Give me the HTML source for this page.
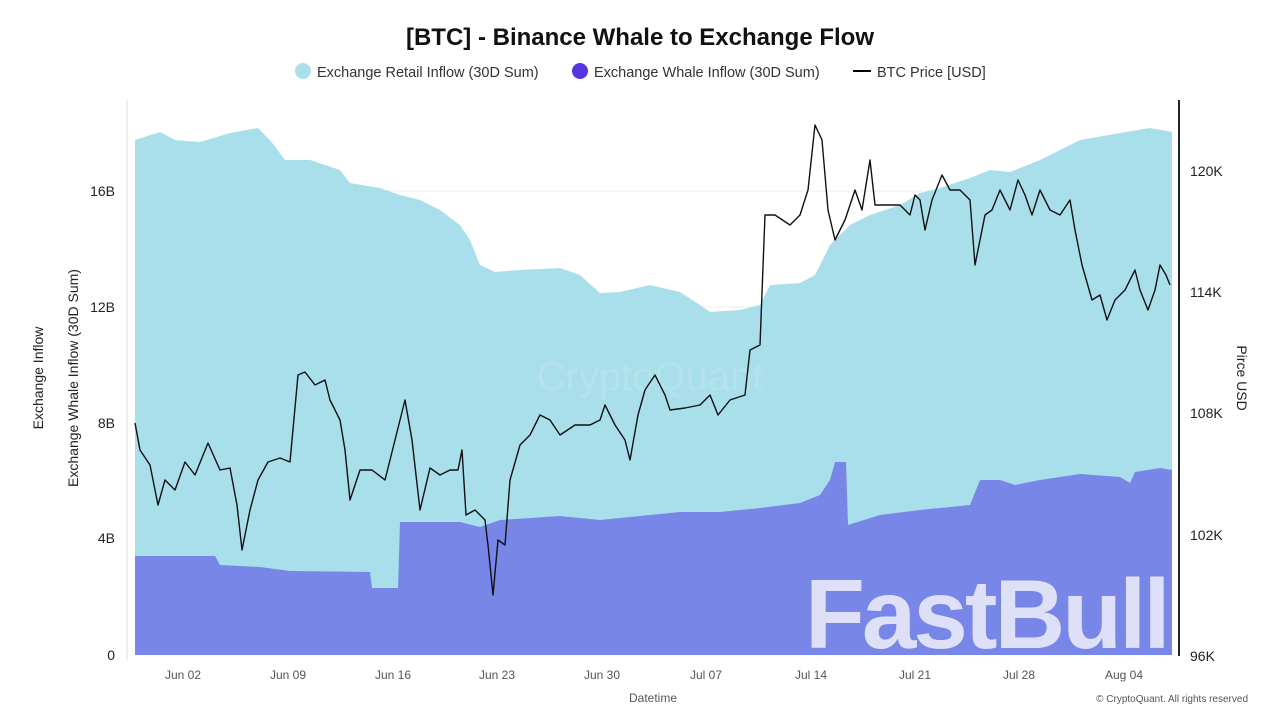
<!DOCTYPE html>
<html><head><meta charset="utf-8"><style>
html,body{margin:0;padding:0;background:#fff;width:1280px;height:720px;overflow:hidden}
svg{display:block;font-family:"Liberation Sans",sans-serif}
</style></head><body>
<svg width="1280" height="720" viewBox="0 0 1280 720">
<defs><clipPath id="c"><rect x="790" y="540" width="386" height="116"/></clipPath></defs>
<text x="640" y="45" text-anchor="middle" font-size="24" font-weight="bold" fill="#111">[BTC] - Binance Whale to Exchange Flow</text>
<circle cx="303" cy="71" r="8" fill="#a8dfeb"/>
<text x="317" y="77" font-size="14.5" fill="#333">Exchange Retail Inflow (30D Sum)</text>
<circle cx="580" cy="71" r="8" fill="#5535e0"/>
<text x="594" y="77" font-size="14.5" fill="#333">Exchange Whale Inflow (30D Sum)</text>
<line x1="853" y1="71" x2="871" y2="71" stroke="#000" stroke-width="2"/>
<text x="877" y="77" font-size="14.5" fill="#333">BTC Price [USD]</text>
<g stroke="#eee" stroke-width="1">
<line x1="135" y1="191" x2="1172" y2="191"/><line x1="135" y1="307" x2="1172" y2="307"/>
<line x1="135" y1="423" x2="1172" y2="423"/><line x1="135" y1="538" x2="1172" y2="538"/>
</g>
<line x1="127" y1="100" x2="127" y2="660" stroke="#ddd"/>
<polygon fill="#a8dfeb" points="135,655 135,140 160,132 175,140 200,142 230,133 258,128 270,140 285,160 310,160 340,170 350,183 380,188 400,195 420,200 440,210 460,225 470,240 480,265 495,272 520,270 560,268 580,275 600,293 620,292 650,285 680,292 700,305 710,312 740,310 760,305 770,285 800,283 815,275 830,245 850,225 870,215 900,205 920,193 940,188 970,178 990,170 1010,172 1040,160 1060,150 1080,140 1120,133 1150,128 1172,132 1172,655"/>
<polygon fill="#7886e8" points="135,655 135,556 215,556 220,565 260,567 290,571 370,572 372,588 398,588 400,522 460,522 480,527 500,520 560,516 600,520 640,516 680,512 720,512 760,508 800,503 820,495 830,480 835,462 846,462 848,525 880,515 920,510 970,505 980,480 1000,480 1015,485 1040,480 1080,474 1120,477 1130,483 1135,472 1160,468 1172,470 1172,655"/>
<text x="650" y="390" text-anchor="middle" font-size="40" fill="#bfe6ef" opacity="0.6">CryptoQuant</text>
<polyline fill="none" stroke="#111" stroke-width="1.4" stroke-linejoin="round" points="135,423 140,450 150,465 158,505 165,480 175,490 185,462 195,475 208,443 220,470 230,468 237,505 242,550 250,510 258,480 268,462 280,458 290,462 298,375 305,372 315,385 325,380 330,400 340,420 345,450 350,500 360,470 372,470 385,480 395,440 405,400 412,440 420,510 430,468 440,475 450,470 458,470 462,450 466,515 475,510 485,520 488,545 493,595 498,540 505,545 510,480 520,445 530,435 540,415 550,420 560,435 575,425 590,425 600,420 605,405 615,425 625,440 630,460 638,415 645,390 655,375 665,395 670,410 685,408 700,405 710,395 718,415 730,400 745,395 750,350 760,345 765,215 775,215 790,225 800,215 808,190 815,125 822,140 828,210 835,240 845,220 855,190 862,210 870,160 875,205 885,205 900,205 910,215 915,195 920,200 925,230 932,200 942,175 950,190 960,190 970,200 975,265 985,215 992,210 1000,190 1010,210 1018,180 1025,195 1032,215 1040,190 1050,210 1060,215 1070,200 1075,230 1082,265 1092,300 1100,295 1107,320 1115,300 1125,290 1135,270 1140,290 1148,310 1155,290 1160,265 1166,275 1170,285"/>
<rect x="1172" y="570" width="35" height="85" fill="#fff" opacity="0.85"/>
<g clip-path="url(#c)"><text x="805" y="648" font-size="98" font-weight="bold" fill="#dde0f7" letter-spacing="-3">FastBull</text></g>
<line x1="1179" y1="100" x2="1179" y2="656" stroke="#222" stroke-width="2"/>
<g font-size="14" fill="#222" text-anchor="end">
<text x="115" y="660">0</text><text x="115" y="543">4B</text><text x="115" y="428">8B</text>
<text x="115" y="312">12B</text><text x="115" y="196">16B</text>
</g>
<g font-size="14" fill="#222">
<text x="1190" y="661">96K</text><text x="1190" y="540">102K</text><text x="1190" y="418">108K</text>
<text x="1190" y="297">114K</text><text x="1190" y="176">120K</text>
</g>
<g font-size="12" fill="#555" text-anchor="middle">
<text x="183" y="679">Jun 02</text><text x="288" y="679">Jun 09</text><text x="393" y="679">Jun 16</text>
<text x="497" y="679">Jun 23</text><text x="602" y="679">Jun 30</text><text x="706" y="679">Jul 07</text>
<text x="811" y="679">Jul 14</text><text x="915" y="679">Jul 21</text><text x="1019" y="679">Jul 28</text>
<text x="1124" y="679">Aug 04</text>
<text x="653" y="702">Datetime</text>
</g>
<text x="1248" y="702" font-size="10" fill="#555" text-anchor="end">© CryptoQuant. All rights reserved</text>
<text transform="translate(43,378) rotate(-90)" font-size="14" fill="#222" text-anchor="middle">Exchange Inflow</text>
<text transform="translate(78,378) rotate(-90)" font-size="14" fill="#222" text-anchor="middle">Exchange Whale Inflow (30D Sum)</text>
<text transform="translate(1237,378) rotate(90)" font-size="14" fill="#222" text-anchor="middle">Pirce USD</text>
</svg>
</body></html>
